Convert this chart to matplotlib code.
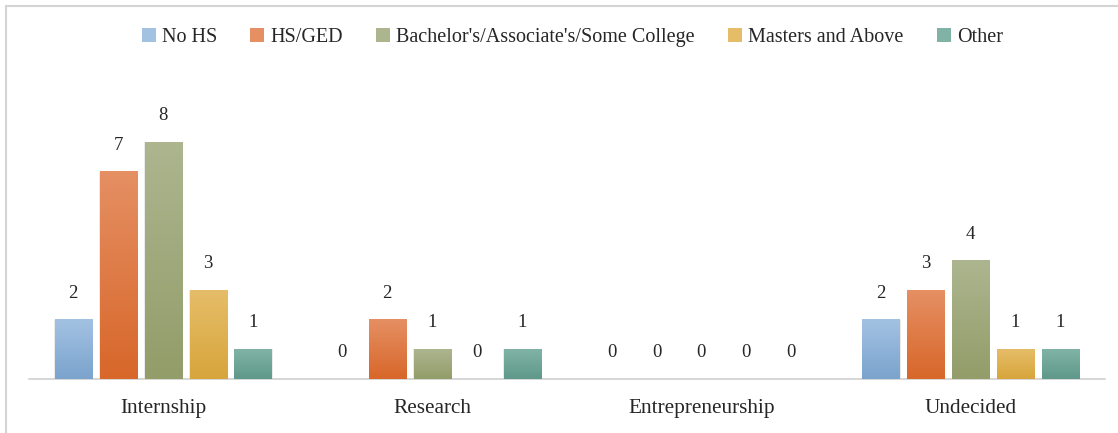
import numpy as np
import matplotlib
matplotlib.use("Agg")
import matplotlib.pyplot as plt
from matplotlib.colors import LinearSegmentedColormap
from matplotlib.lines import Line2D

plt.rcParams["font.family"] = ["Liberation Serif", "DejaVu Serif"]

# ── Data ──────────────────────────────────────────────────────────────────
categories = ["Internship", "Research", "Entrepreneurship", "Undecided"]
series = ["No HS", "HS/GED", "Bachelor's/Associate's/Some College",
          "Masters and Above", "Other"]
no_hs = [2, 0, 0, 2]
hs_ged = [7, 2, 0, 3]
bachelors = [8, 1, 0, 4]
masters = [3, 0, 0, 1]
other = [1, 1, 0, 1]
values = [no_hs, hs_ged, bachelors, masters, other]

# top / bottom colours for the gradient fill of each series
tops = ["#a3c2e2", "#e58f63", "#adb58f", "#e5bd68", "#80b3a6"]
bottoms = ["#7ba3cd", "#d8672a", "#939d69", "#d8a53c", "#5f998a"]

fig = plt.figure(figsize=(11.18, 4.33), dpi=100)
ax = fig.add_axes([0.0255, 0.1247, 0.963, 0.615])

x = np.arange(len(categories))
step = 0.167
width = 0.1375

for i, (name, vals) in enumerate(zip(series, values)):
    pos = x + (i - 2) * step
    bars = ax.bar(pos, vals, width, color=bottoms[i], label=name,
                  linewidth=0, zorder=2)
    cmap = LinearSegmentedColormap.from_list(name, [bottoms[i], tops[i]])
    grad = np.linspace(0, 1, 64).reshape(-1, 1)
    for b, v in zip(bars, vals):
        if v > 0:
            # subtle shadow then gradient body
            ax.bar(b.get_x() + b.get_width() / 2 + 0.002, v, width + 0.006,
                   color="#d9d9d9", alpha=0.5, linewidth=0, zorder=1)
            ax.imshow(grad, cmap=cmap, aspect="auto", origin="lower",
                      extent=(b.get_x(), b.get_x() + b.get_width(), 0, v),
                      zorder=3, interpolation="bilinear")
        ax.annotate(f"{v}", (b.get_x() + b.get_width() / 2, v),
                    xytext=(0, 13), textcoords="offset points",
                    ha="center", va="bottom", fontsize=13.5, color="#262626")

ax.set_xlim(-0.5, len(categories) - 0.5)
ax.set_ylim(0, 9)
ax.set_xticks(x)
ax.set_xticklabels(categories, fontsize=15.3, color="#262626")
ax.tick_params(axis="x", length=0, pad=14.5)
ax.set_yticks([])
for s in ["top", "right", "left"]:
    ax.spines[s].set_visible(False)
ax.spines["bottom"].set_color("#d0d0d0")
ax.spines["bottom"].set_linewidth(1.2)

leg = fig.legend(loc="center", bbox_to_anchor=(0.512, 0.913), ncol=5,
                 frameon=False, fontsize=14.5, handlelength=0.7,
                 handleheight=0.7, handletextpad=0.3, columnspacing=1.65)
for h, c in zip(leg.legend_handles, tops):
    h.set_color(c)
for t in leg.get_texts():
    t.set_color("#262626")

# thin frame on left and top edges
fig.add_artist(Line2D([0.0055, 0.0055], [0, 0.986], transform=fig.transFigure,
                      color="#d4d4d4", linewidth=1.5))
fig.add_artist(Line2D([0.0055, 1], [0.986, 0.986], transform=fig.transFigure,
                      color="#d4d4d4", linewidth=1.5))

fig.savefig("out.png", dpi=100)
